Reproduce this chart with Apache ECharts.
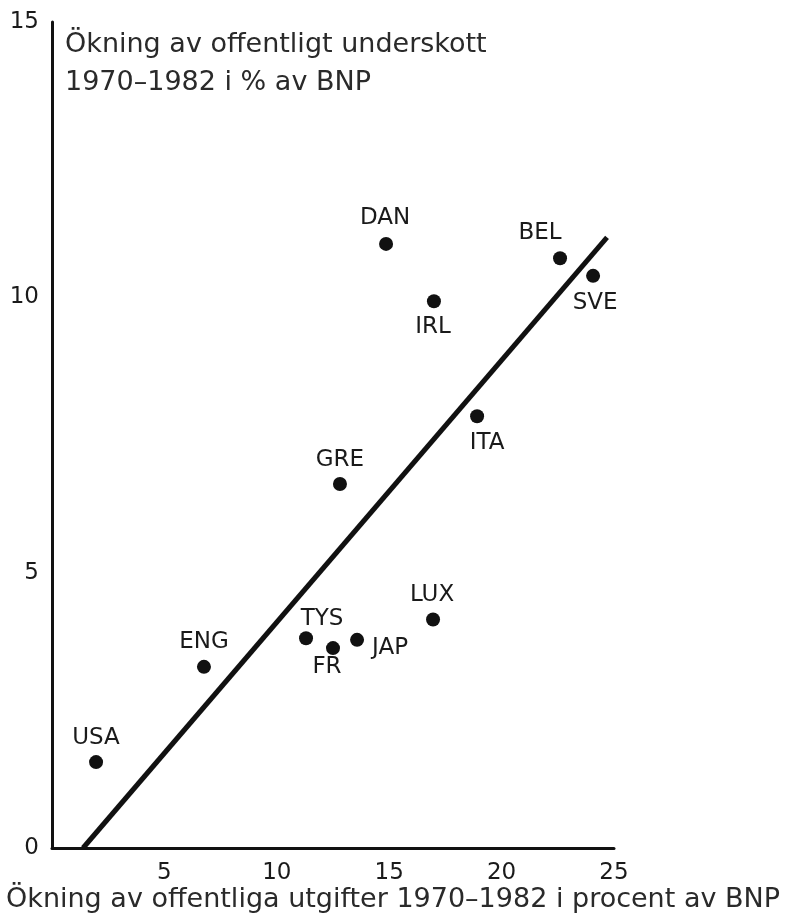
<!DOCTYPE html>
<html>
<head>
<meta charset="utf-8">
<title>Ökning av offentligt underskott</title>
<script src="https://cdn.jsdelivr.net/npm/echarts@6/dist/echarts.min.js"></script>
<style>
  html, body { margin: 0; padding: 0; background: #ffffff; }
  #chart { width: 786px; height: 920px; }
</style>
</head>
<body>
<div id="chart"></div>
<script>
// land och värden
var countries = ['USA', 'ENG', 'TYS', 'FR', 'JAP', 'LUX', 'GRE', 'ITA', 'IRL', 'DAN', 'BEL', 'SVE'];
var spendingIncrease = [1.96, 6.76, 11.3, 12.5, 13.57, 16.95, 12.81, 18.91, 16.99, 14.86, 22.6, 24.07];
var deficitIncrease = [1.56, 3.29, 3.81, 3.63, 3.78, 4.15, 6.61, 7.84, 9.93, 10.97, 10.71, 10.39];

// regressionslinjens ändpunkter
var fitX = [1.38, 24.69];
var fitY = [0, 11.09];

var xTicks = [0, 5, 10, 15, 20, 25];
var yTicks = [0, 5, 10, 15];

// var etiketten hamnar i förhållande till punkten (px)
var labelOffset = {
  USA: [0, -24], ENG: [0, -25], TYS: [16, -19], FR: [-6, 19],
  JAP: [33, 8], LUX: [-1, -24], GRE: [0, -24], ITA: [10, 27],
  IRL: [-1, 26], DAN: [-1, -26], BEL: [-20, -25], SVE: [2, 27]
};

var font = '"DejaVu Sans", sans-serif';
var dotSize = 14;

var points = countries.map(function (c, i) {
  var off = labelOffset[c];
  return {
    name: c,
    value: [spendingIncrease[i], deficitIncrease[i]],
    label: { position: [dotSize / 2 + off[0], dotSize / 2 + off[1]] }
  };
});

var fitLine = fitX.map(function (x, i) { return [x, fitY[i]]; });

var chart = echarts.init(document.getElementById('chart'));

var option = {
  animation: false,
  backgroundColor: '#ffffff',
  title: [
    {
      text: 'Ökning av offentligt underskott\n1970–1982 i % av BNP',
      left: 65,
      top: 26,
      padding: 0,
      textStyle: { fontFamily: font, fontSize: 27, fontWeight: 'normal', color: '#2a2a2a', lineHeight: 38 }
    },
    {
      text: 'Ökning av offentliga utgifter 1970–1982 i procent av BNP',
      left: 393,
      top: 886,
      textAlign: 'center',
      padding: 0,
      textStyle: { fontFamily: font, fontSize: 27, fontWeight: 'normal', color: '#2a2a2a' }
    }
  ],
  grid: { left: 52, right: 172, top: 22, bottom: 72 },
  xAxis: {
    type: 'value',
    min: xTicks[0],
    max: xTicks[xTicks.length - 1],
    interval: 5,
    splitLine: { show: false },
    axisTick: { show: false },
    axisLine: { lineStyle: { color: '#111111', width: 3 } },
    axisLabel: {
      showMinLabel: false,
      margin: 14,
      fontFamily: font,
      fontSize: 23,
      color: '#1a1a1a'
    }
  },
  yAxis: {
    type: 'value',
    min: yTicks[0],
    max: yTicks[yTicks.length - 1],
    interval: 5,
    splitLine: { show: false },
    axisTick: { show: false },
    axisLine: { show: true, lineStyle: { color: '#111111', width: 3 } },
    axisLabel: {
      margin: 13,
      fontFamily: font,
      fontSize: 23,
      color: '#1a1a1a'
    }
  },
  series: [
    {
      type: 'line',
      data: fitLine,
      symbol: 'none',
      lineStyle: { color: '#111111', width: 5 },
      z: 2
    },
    {
      type: 'scatter',
      data: points,
      symbolSize: dotSize,
      itemStyle: { color: '#111111', opacity: 1 },
      label: {
        show: true,
        formatter: '{b}',
        align: 'center',
        verticalAlign: 'middle',
        fontFamily: font,
        fontSize: 23,
        color: '#1a1a1a'
      },
      z: 3
    }
  ]
};

chart.setOption(option);
</script>
</body>
</html>
